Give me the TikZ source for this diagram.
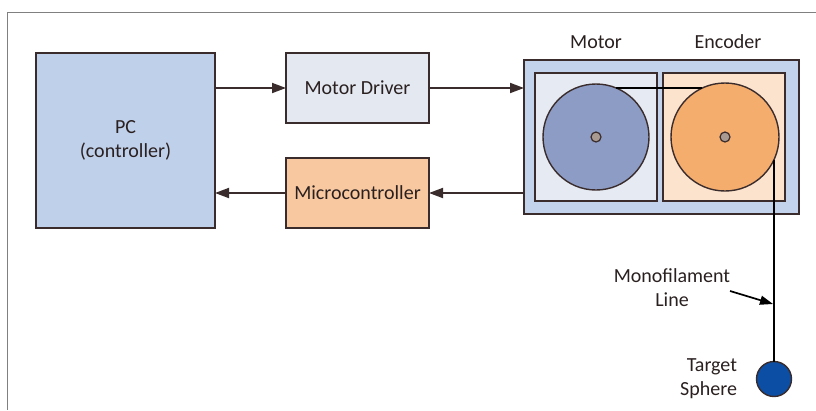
\documentclass[tikz,border=0pt]{standalone}
\usepackage{fontspec}
\setmainfont{Carlito}
\usetikzlibrary{calc,arrows.meta}
\definecolor{edge}{HTML}{3A2C2C}
\definecolor{pcfill}{HTML}{BFD0EA}
\definecolor{mdfill}{HTML}{E3E8F1}
\definecolor{mcfill}{HTML}{F8C8A0}
\definecolor{bigfill}{HTML}{C3D3EC}
\definecolor{motfill}{HTML}{E6EBF3}
\definecolor{encfill}{HTML}{FCE3CE}
\definecolor{motcirc}{HTML}{8C9CC4}
\definecolor{enccirc}{HTML}{F4AD6C}
\definecolor{spherec}{HTML}{0B4EA3}
\definecolor{hubc}{HTML}{A89A90}
\definecolor{txt}{HTML}{2A2020}
\begin{document}
\begin{tikzpicture}[x=1pt,y=-1pt,
  every node/.style={font=\fontsize{20}{24}\selectfont,text=txt,outer sep=0pt,inner sep=0pt},
  box/.style={draw=edge,line width=1.7pt,align=center},
  circ/.style={circle,draw=edge,line width=1.4pt},
  hub/.style={circle,draw=edge,line width=1.2pt,fill=hubc,minimum size=10pt},
  arr/.style={draw=edge,line width=1.8pt,-{Triangle[length=14pt,width=10pt]}},
  lin/.style={draw=black,line width=1.7pt}]
\useasboundingbox (0,0) rectangle (816,410);
\draw[gray,line width=1pt] (816,12) -- (7,12) -- (7,410);
% blocks
\node[box,fill=pcfill,minimum width=179pt,minimum height=175pt] (pc) at (125.5,140.5) {PC\\(controller)};
\node[box,fill=mdfill,minimum width=143pt,minimum height=70pt] (md) at (357.5,88) {Motor Driver};
\node[box,fill=mcfill,minimum width=143pt,minimum height=70pt] (mc) at (357.5,193) {Microcontroller};
\node[box,fill=bigfill,minimum width=275pt,minimum height=154pt] (big) at (661.5,137) {};
\node[box,fill=motfill,minimum width=122pt,minimum height=128pt] (mot) at (596,137) {};
\node[box,fill=encfill,minimum width=122pt,minimum height=128pt] (enc) at (724,137) {};
\node[circ,fill=motcirc,minimum size=106pt] (mcirc) at (596,137) {};
\node[circ,fill=enccirc,minimum size=108pt] (ecirc) at (725,137) {};
\node[hub] (mhub) at (mcirc.center) {};
\node[hub] (ehub) at (ecirc.center) {};
\node (motlab) at (596,42) {Motor};
\node (enclab) at (728,42) {Encoder};
% arrows
\draw[arr] (pc.east |- md.west) -- (md.west);
\draw[arr] (md.east) -- (big.west |- md.east);
\draw[arr] (big.west |- mc.east) -- (mc.east);
\draw[arr] (mc.west) -- (pc.east |- mc.west);
% belt and line
\coordinate (b1) at ($(mcirc.center)+(20.2,-49)$);
\coordinate (b2) at ($(ecirc.center)+(-22.7,-49)$);
\draw[lin] (b1) -- (b2);
\node[circle,draw=edge,line width=1.4pt,fill=spherec,minimum size=35pt] (sph) at (774,379) {};
\coordinate (e1) at ($(ecirc.center)+(49,22.7)$);
\draw[lin] (e1) -- (sph.north);
% labels
\node[align=center] (mono) at (672,288) {Monofilament\\Line};
\coordinate (ms) at (730,291);
\coordinate (mt) at (773,304);
\draw[draw=black,line width=1.7pt,-{Triangle[length=13pt,width=9pt]}] (ms) -- (mt);
\node[align=right,anchor=east] (tgt) at (737,379) {Target\\Sphere};
\end{tikzpicture}
\end{document}
